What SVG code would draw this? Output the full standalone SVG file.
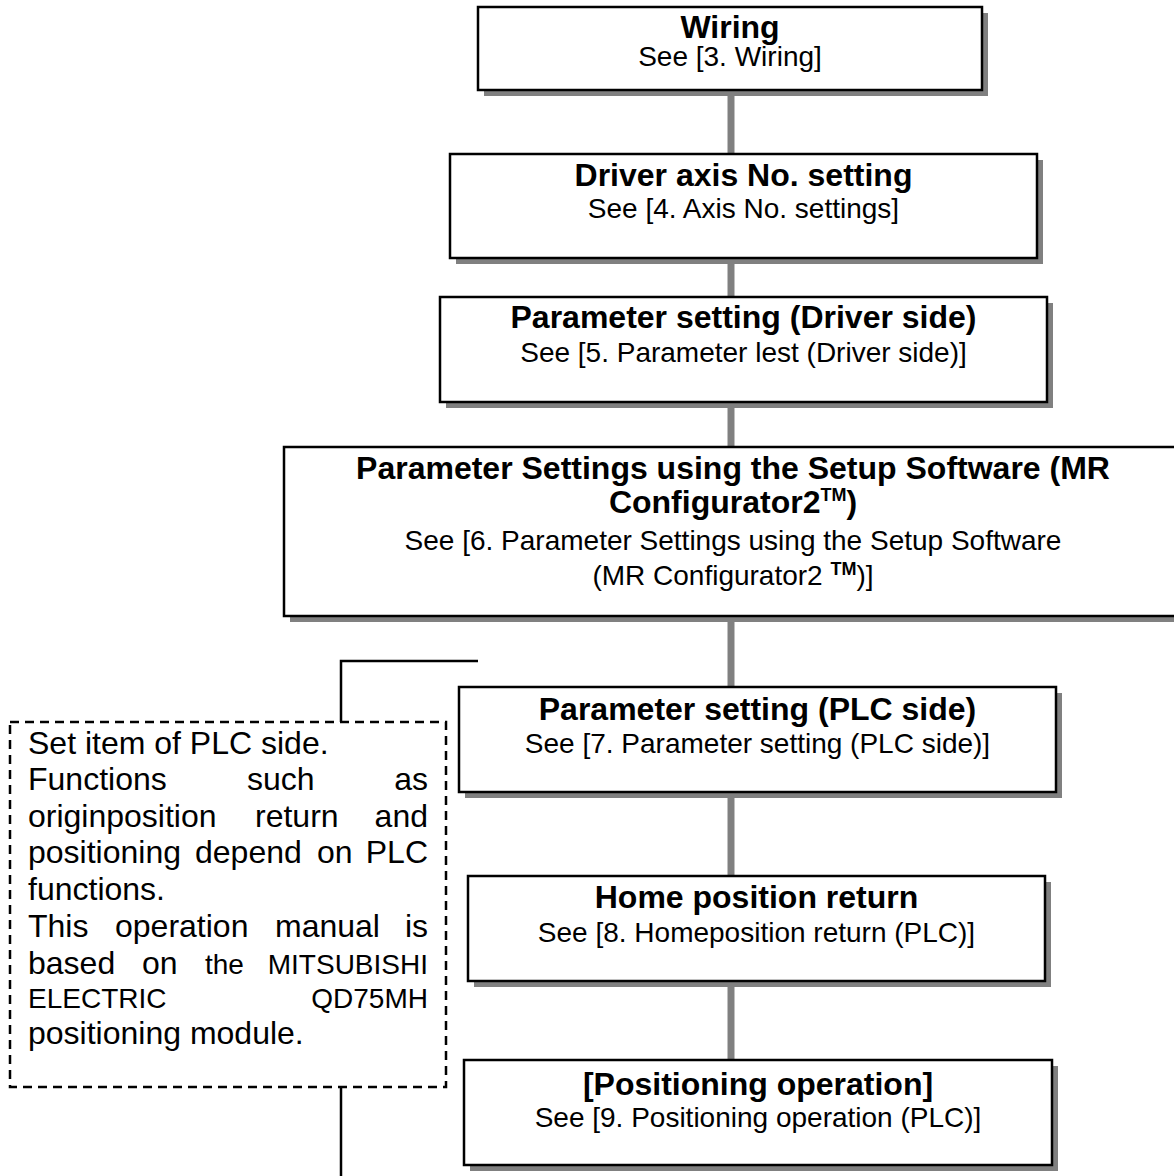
<svg xmlns="http://www.w3.org/2000/svg" width="1174" height="1176" viewBox="0 0 1174 1176">
<style>
.sh{fill:#808080}
.bx{fill:#fff;stroke:#000;stroke-width:2.5}
.t{font-family:"Liberation Sans",Arial,sans-serif;font-size:32px;font-weight:bold;fill:#000;text-anchor:middle}
.s{font-family:"Liberation Sans",Arial,sans-serif;font-size:28px;fill:#000;text-anchor:middle}
.n{font-family:"Liberation Sans",Arial,sans-serif;font-size:32px;fill:#000}
.ns{font-size:28px}
.e{text-anchor:end}
.sup{font-size:18px;font-weight:bold}
.con{stroke:#808080;stroke-width:7;fill:none}
.ln{stroke:#000;stroke-width:2.5;fill:none}
</style>
<rect width="1174" height="1176" fill="#fff"/>
<g id="connectors">
<line class="con" x1="731" y1="90" x2="731" y2="154"/>
<line class="con" x1="731" y1="258" x2="731" y2="297"/>
<line class="con" x1="731" y1="402" x2="731" y2="447"/>
<line class="con" x1="731" y1="616" x2="731" y2="687"/>
<line class="con" x1="731" y1="792" x2="731" y2="876"/>
<line class="con" x1="731" y1="981" x2="731" y2="1060"/>
<polyline class="ln" points="478,661 341,661 341,722"/>
<line class="ln" x1="341" y1="1087" x2="341" y2="1176"/>
</g>
<g id="wiring">
<rect class="sh" x="484" y="13" width="504" height="83"/>
<rect class="bx" x="478" y="7" width="504" height="83"/>
<text class="t" x="730" y="38">Wiring</text>
<text class="s" x="730" y="66">See [3. Wiring]</text>
</g>
<g id="axis">
<rect class="sh" x="456" y="160" width="587" height="104"/>
<rect class="bx" x="450" y="154" width="587" height="104"/>
<text class="t" x="743.5" y="186">Driver axis No. setting</text>
<text class="s" x="743.5" y="218">See [4. Axis No. settings]</text>
</g>
<g id="param-driver">
<rect class="sh" x="446" y="303" width="607" height="105"/>
<rect class="bx" x="440" y="297" width="607" height="105"/>
<text class="t" x="743.5" y="328">Parameter setting (Driver side)</text>
<text class="s" x="743.5" y="362">See [5. Parameter lest (Driver side)]</text>
</g>
<g id="param-setup">
<rect class="sh" x="290" y="453" width="898" height="169"/>
<rect class="bx" x="284" y="447" width="898" height="169"/>
<text class="t" x="733" y="479">Parameter Settings using the Setup Software (MR</text>
<text class="t" x="733" y="513">Configurator2<tspan class="sup" dy="-12">TM</tspan><tspan dy="12">)</tspan></text>
<text class="s" x="733" y="550">See [6. Parameter Settings using the Setup Software</text>
<text class="s" x="733" y="585">(MR Configurator2 <tspan class="sup" dy="-10">TM</tspan><tspan dy="10">)]</tspan></text>
</g>
<g id="param-plc">
<rect class="sh" x="465" y="693" width="597" height="105"/>
<rect class="bx" x="459" y="687" width="597" height="105"/>
<text class="t" x="757.5" y="720">Parameter setting (PLC side)</text>
<text class="s" x="757.5" y="753">See [7. Parameter setting (PLC side)]</text>
</g>
<g id="home">
<rect class="sh" x="474" y="882" width="577" height="105"/>
<rect class="bx" x="468" y="876" width="577" height="105"/>
<text class="t" x="756.5" y="908">Home position return</text>
<text class="s" x="756.5" y="942">See [8. Homeposition return (PLC)]</text>
</g>
<g id="positioning">
<rect class="sh" x="470" y="1066" width="588" height="105"/>
<rect class="bx" x="464" y="1060" width="588" height="105"/>
<text class="t" x="758" y="1095">[Positioning operation]</text>
<text class="s" x="758" y="1127">See [9. Positioning operation (PLC)]</text>
</g>
<g id="note">
<rect x="10" y="722" width="436" height="365" fill="none" stroke="#000" stroke-width="2.5" stroke-dasharray="9 6"/>
<text class="n" x="28" y="754">Set item of PLC side.</text>
<text class="n" y="790"><tspan x="28">Functions</tspan><tspan x="247">such</tspan><tspan x="428" class="e">as</tspan></text>
<text class="n" y="827"><tspan x="28">originposition</tspan><tspan x="255">return</tspan></text>
<text class="n e" x="428" y="827">and</text>
<text class="n" y="863"><tspan x="28">positioning</tspan><tspan x="195">depend</tspan><tspan x="317">on</tspan></text>
<text class="n e" x="428" y="863">PLC</text>
<text class="n" x="28" y="900">functions.</text>
<text class="n" y="937"><tspan x="28">This</tspan><tspan x="115">operation</tspan><tspan x="275">manual</tspan></text>
<text class="n e" x="428" y="937">is</text>
<text class="n" y="974"><tspan x="28">based</tspan><tspan x="142">on</tspan><tspan x="205" class="ns">the</tspan></text>
<text class="n ns e" x="428" y="974">MITSUBISHI</text>
<text class="n ns" x="28" y="1008">ELECTRIC</text>
<text class="n ns e" x="428" y="1008">QD75MH</text>
<text class="n" x="28" y="1044">positioning module.</text>
</g>
</svg>
